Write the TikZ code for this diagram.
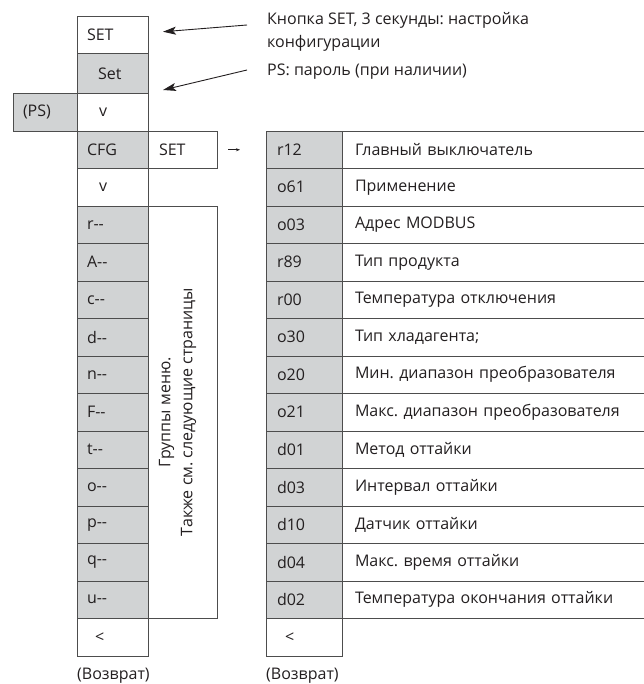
\documentclass[tikz,border=0pt]{standalone}
\usepackage{fontspec}
\setmainfont{Open Sans}
\usepackage{tikz}
\usetikzlibrary{arrows.meta, positioning}
\frenchspacing
\definecolor{cellfill}{HTML}{D1D3D4}
\definecolor{celldraw}{HTML}{4D4D4D}
\definecolor{inktext}{HTML}{231F20}
\tikzset{
  cell/.style={rectangle, draw=celldraw, line width=0.8pt, outer sep=0pt, inner ysep=0pt, align=left, font=\fontsize{16}{18}\selectfont, text=inktext, minimum height=37.5pt},
  menucell/.style={cell, inner xsep=10pt, text width=51pt},
  menugray/.style={menucell, fill=cellfill},
  sidebox/.style={cell, inner xsep=11pt, text width=47pt},
  psbox/.style={cell, fill=cellfill, inner xsep=10pt, text width=44pt},
  parcode/.style={cell, fill=cellfill, inner xsep=11pt, text width=54pt},
  pardesc/.style={cell, inner xsep=13pt, text width=282pt},
  notetext/.style={font=\fontsize{16}{23}\selectfont, text=inktext, align=left, inner sep=0pt},
  pointer/.style={-{Stealth[length=13pt, width=8pt, inset=3pt]}, line width=0.9pt, draw=inktext},
  arr/.style={-{Stealth[length=4pt]}, line width=0.9pt, draw=inktext},
}
\begin{document}
\begin{tikzpicture}[x=1pt, y=-1pt]
  \useasboundingbox (0,0) rectangle (643,684);
  % menu column
  \node[menucell] (setkey) at (112.5,34.75) {SET};
  \node[menugray, below=0pt of setkey, minimum height=40pt] (setlong) {\hspace{11pt}Set};
  \node[menucell, below=0pt of setlong] (down1) {\hspace{12pt}v};
  \node[psbox, left=0pt of down1] (ps) {(PS)};
  \node[menugray, below=0pt of down1] (cfg) {CFG};
  \node[sidebox, right=0pt of cfg] (cfgset) {SET};
  \node[menucell, below=0pt of cfg] (down2) {\hspace{12pt}v};
  \node[menugray, below=0pt of down2] (grpr) {r-{}-};
  \node[menugray, below=0pt of grpr] (grpa) {A-{}-};
  \node[menugray, below=0pt of grpa] (grpc) {c-{}-};
  \node[menugray, below=0pt of grpc] (grpd) {d-{}-};
  \node[menugray, below=0pt of grpd] (grpn) {n-{}-};
  \node[menugray, below=0pt of grpn] (grpf) {F-{}-};
  \node[menugray, below=0pt of grpf] (grpt) {t-{}-};
  \node[menugray, below=0pt of grpt] (grpo) {o-{}-};
  \node[menugray, below=0pt of grpo] (grpp) {p-{}-};
  \node[menugray, below=0pt of grpp] (grpq) {q-{}-};
  \node[menugray, below=0pt of grpq] (grpu) {u-{}-};
  \node[menucell, below=0pt of grpu] (back1) {\hspace{8pt}<};
  \node[sidebox, anchor=north west, minimum height=412.5pt] (groups) at (grpr.north east) {};
  \node[notetext, rotate=90, align=center, font=\fontsize{16}{22}\selectfont] (groupnote) at ([xshift=-5pt]groups.center) {Группы меню.\\Также см. следующие страницы};
  % configuration parameters
  \node[parcode, right=49pt of cfgset] (r12) {r12};
  \node[pardesc, right=0pt of r12] (r12d) {Главный выключатель};
  \node[parcode, below=0pt of r12] (o61) {o61};
  \node[pardesc, right=0pt of o61] (o61d) {Применение};
  \node[parcode, below=0pt of o61] (o03) {o03};
  \node[pardesc, right=0pt of o03] (o03d) {Адрес MODBUS};
  \node[parcode, below=0pt of o03] (r89) {r89};
  \node[pardesc, right=0pt of r89] (r89d) {Тип продукта};
  \node[parcode, below=0pt of r89] (r00) {r00};
  \node[pardesc, right=0pt of r00] (r00d) {Температура отключения};
  \node[parcode, below=0pt of r00] (o30) {o30};
  \node[pardesc, right=0pt of o30] (o30d) {Тип хладагента;};
  \node[parcode, below=0pt of o30] (o20) {o20};
  \node[pardesc, right=0pt of o20] (o20d) {Мин. диапазон преобразователя};
  \node[parcode, below=0pt of o20] (o21) {o21};
  \node[pardesc, right=0pt of o21] (o21d) {Макс. диапазон преобразователя};
  \node[parcode, below=0pt of o21] (d01) {d01};
  \node[pardesc, right=0pt of d01] (d01d) {Метод оттайки};
  \node[parcode, below=0pt of d01] (d03) {d03};
  \node[pardesc, right=0pt of d03] (d03d) {Интервал оттайки};
  \node[parcode, below=0pt of d03] (d10) {d10};
  \node[pardesc, right=0pt of d10] (d10d) {Датчик оттайки};
  \node[parcode, below=0pt of d10] (d04) {d04};
  \node[pardesc, right=0pt of d04] (d04d) {Макс. время оттайки};
  \node[parcode, below=0pt of d04] (d02) {d02};
  \node[pardesc, right=0pt of d02] (d02d) {Температура окончания оттайки};
  \node[parcode, fill=white, below=0pt of d02] (back2) {\hspace{8pt}<};
  % notes
  \node[notetext, anchor=west] (noteA) at (267,31.5) {Кнопка SET, 3 секунды: настройка\\конфигурации};
  \node[notetext, anchor=west] (noteB) at (267,72) {PS: пароль (при наличии)};
  \node[notetext, anchor=west] (ret1) at ([yshift=-20pt]back1.south west) {(Возврат)};
  \node[notetext, anchor=west] (ret2) at ([yshift=-20pt]back2.south west) {(Возврат)};
  \draw[pointer] ([shift={(-20,-6.5)}]noteA.west) -- ([shift={(15,-3)}]setkey.east);
  \draw[pointer] ([shift={(-20,-2)}]noteB.west) -- ([shift={(15,-3.5)}]down1.north east);
  \draw[arr, shorten <=11pt, shorten >=26pt] (cfgset) -- (r12);
\end{tikzpicture}
\end{document}
